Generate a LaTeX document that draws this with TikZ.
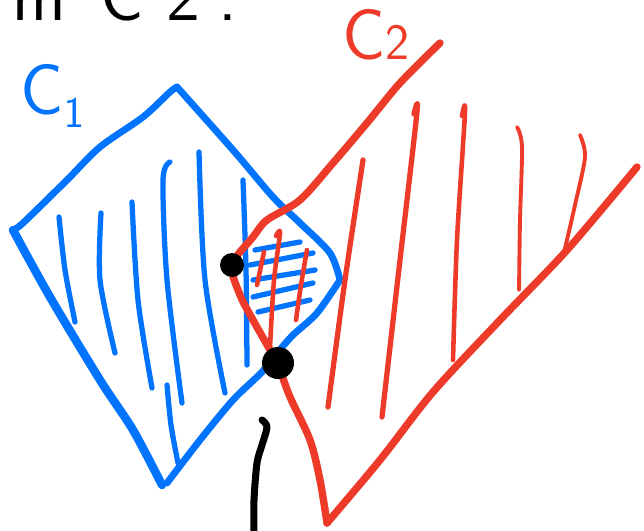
\documentclass[tikz,border=0pt]{standalone}
\usetikzlibrary{backgrounds}

\definecolor{penblue}{RGB}{0,115,255}
\definecolor{penred}{RGB}{238,58,40}

\begin{document}
\begin{tikzpicture}[
            x = 0.02cm,
            y = -0.02cm,
            line cap = round,
            line join = round,
            background rectangle/.style={fill=white},
            show background rectangle,
            blueedge/.style={draw=penblue, line width=3.9pt},
            bluehatch/.style={draw=penblue, line width=3pt},
            rededge/.style={draw=penred, line width=4.2pt},
            redhatch/.style={draw=penred, line width=3pt},
            redthin/.style={draw=penred, line width=2.2pt},
            inkdot/.style={circle, fill=black, inner sep=0pt},
            penlabel/.style={inner sep=0pt, anchor=base west,
                font=\sffamily\fontsize{41}{41}\selectfont}
        ]

        \clip (0,0) rectangle (644,530);

        % leftover of the line above
        \node[penlabel] (note) at (12,21)
            {m\hspace{0.7cm}C\hspace{0.45cm}2\hspace{0.35cm}.};

        % cone C1
        \draw[blueedge] plot[smooth, tension=0.5] coordinates {
            (13,230) (23,223) (67,180) (100,147) (143,117) (170,92) (177,87)};
        \draw[blueedge] plot[smooth, tension=0.5] coordinates {
            (177,87) (233,150) (273,197) (300,223) (330,253) (340,280)};
        \draw[blueedge] plot[smooth, tension=0.5] coordinates {
            (340,280) (317,313) (293,335) (278,352) (262,372) (233,400) (200,440) (167,483)};
        \draw[blueedge, line width=4.8pt] plot[smooth, tension=0.5] coordinates {
            (162,485) (133,430) (100,380) (50,297) (13,230)};
        \node[penlabel, text=penblue] (c1) at (20,114) {C$_{\mathsf{1}}$};

        % hatching of C1
        \draw[bluehatch] plot[smooth] coordinates {(59,217) (65,270) (75,322)};
        \draw[bluehatch] plot[smooth] coordinates {(101,213) (100,280) (115,353)};
        \draw[bluehatch] plot[smooth] coordinates {(132,202) (138,300) (152,388)};
        \draw[bluehatch] plot[smooth] coordinates {(170,162) (163,180) (167,280) (182,403)};
        \draw[bluehatch] plot[smooth] coordinates {(199,152) (205,280) (225,393)};
        \draw[bluehatch] plot[smooth] coordinates {(243,180) (246,270) (247,365)};
        \draw[bluehatch] plot[smooth] coordinates {(167,385) (171,425) (178,463)};

        % cone C2
        \draw[rededge] plot[smooth, tension=0.5] coordinates {
            (440,43) (400,83) (367,123) (333,163) (300,200) (267,220) (253,237)
            (232,265) (240,295) (253,320) (270,350) (278,365) (290,397)
            (310,440) (320,480) (327,523)};
        \draw[rededge] plot[smooth, tension=0.5] coordinates {
            (327,523) (380,460) (433,392) (500,320) (567,250) (637,167)};
        \node[penlabel, text=penred] (c2) at (342,60)
            {C{\fontsize{29}{29}\selectfont 2}};

        % hatching of C2
        \draw[redhatch] plot[smooth] coordinates {(363,160) (345,280) (328,407)};
        \draw[redhatch] plot[smooth] coordinates {(414,114) (417,112) (400,260) (382,417)};
        \draw[redhatch, line width=2.6pt] plot[smooth] coordinates {(462,116) (465,112) (457,240) (453,360)};
        \draw[redthin] plot[smooth] coordinates {(517,127) (522,147) (520,220) (519,290)};
        \draw[redthin] plot[smooth] coordinates {(580,135) (585,157) (575,205) (563,257)};

        % the part in both cones
        \draw[bluehatch] (255,250) -- (300,242);
        \draw[bluehatch] (250,265) -- (313,253);
        \draw[bluehatch] (253,280) -- (315,270);
        \draw[bluehatch] (253,297) -- (313,283);
        \draw[bluehatch] (258,312) -- (310,300);
        \draw[redthin, line width=2.6pt] plot[smooth] coordinates {(276,236) (280,233) (274,280) (270,347)};
        \draw[redthin, line width=2.6pt] plot[smooth] coordinates {(307,250) (301,285) (296,320)};
        \draw[redthin, line width=2.6pt] (264,252) -- (257,285);

        % where the edges meet
        \node[inkdot, minimum size=0.48cm] (meet1) at (232,265) {};
        \node[inkdot, minimum size=0.64cm] (meet2) at (278,363) {};

        % black stroke below
        \draw[line width=4pt] plot[smooth, tension=0.5] coordinates {
            (262,420) (267,427) (262,445) (257,463) (254,500) (254,535)};

    \end{tikzpicture}
\end{document}
